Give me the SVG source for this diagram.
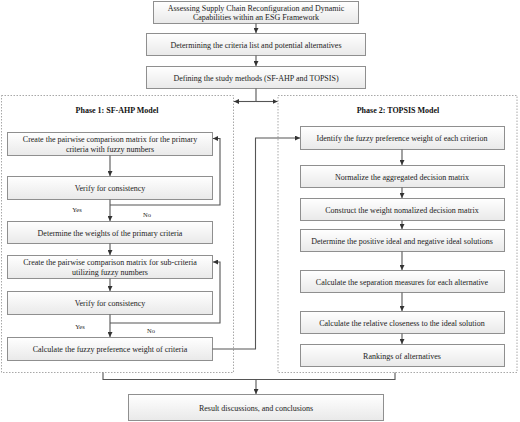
<svg xmlns="http://www.w3.org/2000/svg" width="520" height="422" viewBox="0 0 520 422">
<defs>
<linearGradient id="g" x1="0" y1="0" x2="0" y2="1">
<stop offset="0" stop-color="#ffffff"/>
<stop offset="1" stop-color="#e9e9e9"/>
</linearGradient>
<marker id="ah" viewBox="0 0 10 10" refX="10" refY="5" markerWidth="5" markerHeight="5" orient="auto-start-reverse" markerUnits="userSpaceOnUse">
<path d="M0,0 L10,5 L0,10 z" fill="#333"/>
</marker>
</defs>
<style>
.box{fill:url(#g);stroke:#8f8f8f;stroke-width:1}
.ph{fill:none;stroke:#a8a8a8;stroke-width:1;stroke-dasharray:1.5 1.5}
.t{font-family:"Liberation Serif","Times New Roman",serif;font-size:8px;fill:#222;text-anchor:middle}
.h{font-family:"Liberation Serif","Times New Roman",serif;font-size:8px;font-weight:bold;fill:#111;text-anchor:middle}
.s{font-family:"Liberation Serif","Times New Roman",serif;font-size:6.5px;fill:#222;text-anchor:middle}
.c{fill:none;stroke:#555;stroke-width:1.1}
.a{marker-end:url(#ah)}
</style>
<rect width="520" height="422" fill="#fff"/>

<g id="phase1">
<rect class="ph" x="1.5" y="95.5" width="232" height="277"/>
<text class="h" x="117" y="113">Phase 1: SF-AHP Model</text>
</g>
<g id="phase2">
<rect class="ph" x="278" y="95.5" width="239" height="277"/>
<text class="h" x="398" y="113">Phase 2: TOPSIS Model</text>
</g>

<g id="n1"><rect class="box" x="153.5" y="1.5" width="205" height="22"/>
<text class="t" x="256" y="10.5">Assessing Supply Chain Reconfiguration and Dynamic</text>
<text class="t" x="256" y="20">Capabilities within an ESG Framework</text></g>
<g id="n2"><rect class="box" x="146.5" y="33.5" width="219" height="22"/>
<text class="t" x="256" y="47.5">Determining the criteria list and potential alternatives</text></g>
<g id="n3"><rect class="box" x="146.5" y="66.5" width="219" height="22"/>
<text class="t" x="256" y="80.5">Defining the study methods (SF-AHP and TOPSIS)</text></g>

<g id="p1a"><rect class="box" x="7.5" y="132.5" width="205" height="23"/>
<text class="t" x="110" y="142">Create the pairwise comparison matrix for the primary</text>
<text class="t" x="110" y="152">criteria with fuzzy numbers</text></g>
<g id="p1b"><rect class="box" x="7.5" y="176.5" width="205" height="23"/>
<text class="t" x="110" y="191">Verify for consistency</text></g>
<g id="p1c"><rect class="box" x="7.5" y="221.5" width="205" height="22"/>
<text class="t" x="110" y="235.5">Determine the weights of the primary criteria</text></g>
<g id="p1d"><rect class="box" x="7.5" y="255.5" width="205" height="23"/>
<text class="t" x="110" y="265">Create the pairwise comparison matrix for sub-criteria</text>
<text class="t" x="110" y="275">utilizing fuzzy numbers</text></g>
<g id="p1e"><rect class="box" x="7.5" y="291.5" width="205" height="23"/>
<text class="t" x="110" y="306">Verify for consistency</text></g>
<g id="p1f"><rect class="box" x="7.5" y="337.5" width="205" height="23"/>
<text class="t" x="110" y="352">Calculate the fuzzy preference weight of criteria</text></g>

<g id="p2a"><rect class="box" x="300.5" y="126.5" width="204" height="23"/>
<text class="t" x="402" y="141">Identify the fuzzy preference weight of each criterion</text></g>
<g id="p2b"><rect class="box" x="300.5" y="165.5" width="204" height="22"/>
<text class="t" x="402" y="179.5">Normalize the aggregated decision matrix</text></g>
<g id="p2c"><rect class="box" x="300.5" y="198.5" width="204" height="22"/>
<text class="t" x="402" y="212.5">Construct the weight nomalized decision matrix</text></g>
<g id="p2d"><rect class="box" x="300.5" y="229.5" width="204" height="22"/>
<text class="t" x="402" y="243.5">Determine the positive ideal and negative ideal solutions</text></g>
<g id="p2e"><rect class="box" x="300.5" y="270.5" width="204" height="22"/>
<text class="t" x="402" y="284.5">Calculate the separation measures for each alternative</text></g>
<g id="p2f"><rect class="box" x="300.5" y="311.5" width="204" height="22"/>
<text class="t" x="402" y="325.5">Calculate the relative closeness to the ideal solution</text></g>
<g id="p2g"><rect class="box" x="300.5" y="344.5" width="204" height="22"/>
<text class="t" x="402" y="358.5">Rankings of alternatives</text></g>

<g id="n4"><rect class="box" x="128.5" y="394.5" width="255" height="26"/>
<text class="t" x="256" y="410.5">Result discussions, and conclusions</text></g>

<g id="labels">
<text class="s" x="77" y="212">Yes</text>
<text class="s" x="147" y="217">No</text>
<text class="s" x="80" y="329">Yes</text>
<text class="s" x="151" y="333">No</text>
</g>

<g id="connectors">
<path class="c a" d="M256,23.5 V33"/>
<path class="c a" d="M256,55.5 V66"/>
<path class="c" d="M256,88.5 V101.5"/>
<path class="c a" d="M256,101.5 H234"/>
<path class="c a" d="M256,101.5 H277.5"/>
<path class="c a" d="M110,155.5 V176"/>
<path class="c a" d="M110,199.5 V221"/>
<path class="c a" d="M110,205 H220 V138.5 H213"/>
<path class="c a" d="M110,243.5 V255"/>
<path class="c a" d="M110,278.5 V291"/>
<path class="c a" d="M110,314.5 V337"/>
<path class="c a" d="M110,323 H220 V262 H213"/>
<path class="c a" d="M212.5,349 H255.5 V138 H300"/>
<path class="c a" d="M402,149.5 V165"/>
<path class="c a" d="M402,187.5 V198"/>
<path class="c a" d="M402,220.5 V229"/>
<path class="c a" d="M402,251.5 V270"/>
<path class="c a" d="M402,292.5 V311"/>
<path class="c a" d="M402,333.5 V344"/>
<path class="c" d="M103,372.5 V379.5 H395 V372.5"/>
<path class="c a" d="M256,379.5 V394"/>
</g>
</svg>
